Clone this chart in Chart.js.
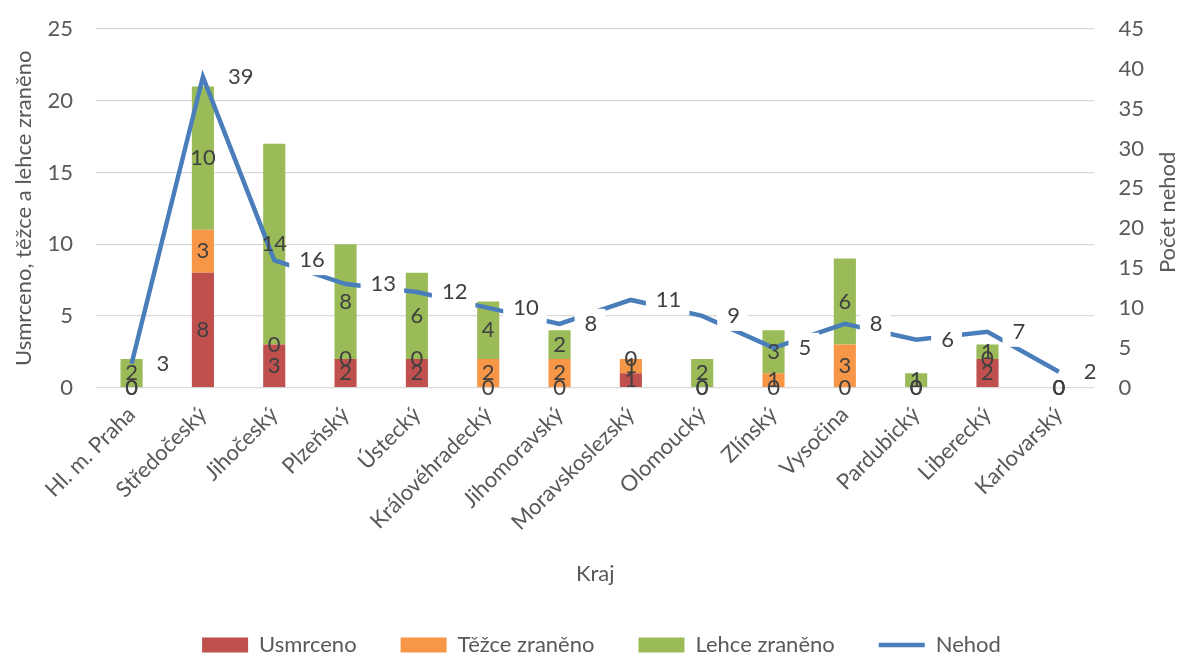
<!DOCTYPE html>
<html>
<head>
<meta charset="utf-8">
<script src="https://cdn.jsdelivr.net/npm/chart.js@4.4.1/dist/chart.umd.min.js"></script>
<style>
  html, body { margin: 0; padding: 0; background: #fff; }
  #wrap { width: 1181px; height: 657px; }
</style>
</head>
<body>
<div id="wrap"><canvas id="chartKraje"></canvas></div>
<script>
  const categories = [
    "Hl. m. Praha", "Středočeský", "Jihočeský", "Plzeňský", "Ústecký",
    "Královéhradecký", "Jihomoravský", "Moravskoslezský", "Olomoucký",
    "Zlínský", "Vysočina", "Pardubický", "Liberecký", "Karlovarský"
  ];
  const usmrceno = [0, 8, 3, 2, 2, 0, 0, 1, 0, 0, 0, 0, 2, 0];
  const tezceZraneno = [0, 3, 0, 0, 0, 2, 2, 1, 0, 1, 3, 0, 0, 0];
  const lehceZraneno = [2, 10, 14, 8, 6, 4, 2, 0, 2, 3, 6, 1, 1, 0];
  const nehod = [3, 39, 16, 13, 12, 10, 8, 11, 9, 5, 8, 6, 7, 2];

  const leftMax = 25;
  const rightMax = 45;
  const tickStep = 5;

  const FONT = "Lato";
  const SIZE = 22;
  const TEXT = "#595959";
  const LABEL = "#404040";
  const LEFT_TICK_PAD = 23;

  // svislé osy nemají posouvat horní okraj grafu kvůli odsazení popisků
  function noVerticalPadding(scale) {
    scale.paddingTop = 0;
    scale.paddingBottom = 0;
  }

  // levá osa: Chart.js počítá odsazení popisků z obou stran, vnější ubereme
  function fitLeftAxis(scale) {
    noVerticalPadding(scale);
    scale.width -= LEFT_TICK_PAD;
  }

  // šikmé popisky kategorií smí přesahovat doleva pod osu y
  function noHorizontalPadding(scale) {
    scale.paddingLeft = 0;
    scale.paddingRight = 0;
  }

  // popisky hodnot (sloupce uprostřed segmentu, čára vpravo s bílým pozadím)
  const valueLabels = {
    id: "valueLabels",
    afterInit(chart) {
      // legenda je nizsi nez by ji Chart.js udelal pri velkem rozestupu polozek
      const lg = chart.legend;
      const origFit = lg.fit.bind(lg);
      lg.fit = function () {
        origFit();
        this.height -= 9;
      };
    },
    afterLayout(chart) {
      chart.legend.left += 14;
      chart.legend.right += 14;
    },
    afterDatasetsDraw(chart) {
      const ctx = chart.ctx;
      ctx.save();
      ctx.font = SIZE + "px " + FONT;
      ctx.textBaseline = "middle";

      const lineMeta = chart.getDatasetMeta(3);
      lineMeta.data.forEach((pt, i) => {
        const text = String(nehod[i]);
        const tw = ctx.measureText(text).width;
        ctx.fillStyle = "#fff";
        ctx.fillRect(pt.x + 15, pt.y - 15, tw + 18, 30);
        ctx.fillStyle = LABEL;
        ctx.textAlign = "left";
        ctx.fillText(text, pt.x + 25, pt.y);
      });

      ctx.textAlign = "center";
      ctx.fillStyle = LABEL;
      for (let d = 0; d < 3; d++) {
        const values = chart.data.datasets[d].data;
        chart.getDatasetMeta(d).data.forEach((bar, i) => {
          ctx.fillText(String(values[i]), bar.x, (bar.y + bar.base) / 2);
        });
      }
      ctx.restore();
    },
    afterDraw(chart) {
      // titulek pravé osy čtený zdola nahoru
      const y2 = chart.scales.y2;
      const ctx = chart.ctx;
      ctx.save();
      ctx.font = SIZE + "px " + FONT;
      ctx.fillStyle = TEXT;
      ctx.textAlign = "center";
      ctx.textBaseline = "middle";
      ctx.translate(chart.width - 13, (y2.top + y2.bottom) / 2 + 4);
      ctx.rotate(-Math.PI / 2);
      ctx.fillText("Počet nehod", 0, 0);
      ctx.restore();
    }
  };

  const canvas = document.getElementById("chartKraje");

  const barCommon = {
    stack: "s",
    order: 1,
    pointStyle: "rect",
    categoryPercentage: 1,
    barPercentage: 0.31
  };

  new Chart(canvas, {
    type: "bar",
    data: {
      labels: categories,
      datasets: [
        { label: "Usmrceno", data: usmrceno, backgroundColor: "#C0504D", ...barCommon },
        { label: "Těžce zraněno", data: tezceZraneno, backgroundColor: "#F79646", ...barCommon },
        { label: "Lehce zraněno", data: lehceZraneno, backgroundColor: "#9BBB59", ...barCommon },
        {
          type: "line",
          label: "Nehod",
          data: nehod,
          yAxisID: "y2",
          borderColor: "#4A7EBB",
          backgroundColor: "#4A7EBB",
          borderWidth: 4.5,
          pointRadius: 0,
          pointStyle: "line",
          tension: 0,
          order: 0
        }
      ]
    },
    options: {
      responsive: true,
      maintainAspectRatio: false,
      animation: false,
      layout: {
        padding: { left: 7, right: 13, top: 29, bottom: 0 }
      },
      plugins: {
        tooltip: { enabled: false },
        legend: {
          position: "bottom",
          labels: {
            usePointStyle: true,
            pointStyleWidth: 46,
            boxHeight: 15,
            padding: 44,
            color: TEXT,
            font: { family: FONT, size: SIZE },
            sort: (a, b) => a.datasetIndex - b.datasetIndex
          }
        }
      },
      scales: {
        x: {
          stacked: true,
          afterFit: noHorizontalPadding,
          grid: { display: false },
          border: { display: false },
          ticks: {
            color: TEXT,
            font: { family: FONT, size: SIZE },
            minRotation: 45,
            maxRotation: 45,
            autoSkip: false,
            padding: 6
          },
          title: {
            display: true,
            text: "Kraj",
            color: TEXT,
            font: { family: FONT, size: SIZE },
            padding: { top: 19, bottom: 3 }
          }
        },
        y: {
          stacked: true,
          position: "left",
          min: 0,
          max: leftMax,
          afterFit: fitLeftAxis,
          ticks: {
            stepSize: tickStep,
            color: TEXT,
            font: { family: FONT, size: SIZE },
            padding: LEFT_TICK_PAD
          },
          grid: { color: "#D9D9D9", lineWidth: 1.3, drawTicks: false },
          border: { display: false },
          title: {
            display: true,
            text: "Usmrceno, těžce a lehce zraněno",
            color: TEXT,
            font: { family: FONT, size: SIZE },
            padding: { top: 4, bottom: 10 }
          }
        },
        y2: {
          position: "right",
          min: 0,
          max: rightMax,
          afterFit: noVerticalPadding,
          ticks: {
            stepSize: tickStep,
            color: TEXT,
            font: { family: FONT, size: SIZE },
            padding: 24
          },
          grid: { display: false, drawTicks: false },
          border: { display: false }
        }
      }
    },
    plugins: [valueLabels]
  });
</script>
</body>
</html>
